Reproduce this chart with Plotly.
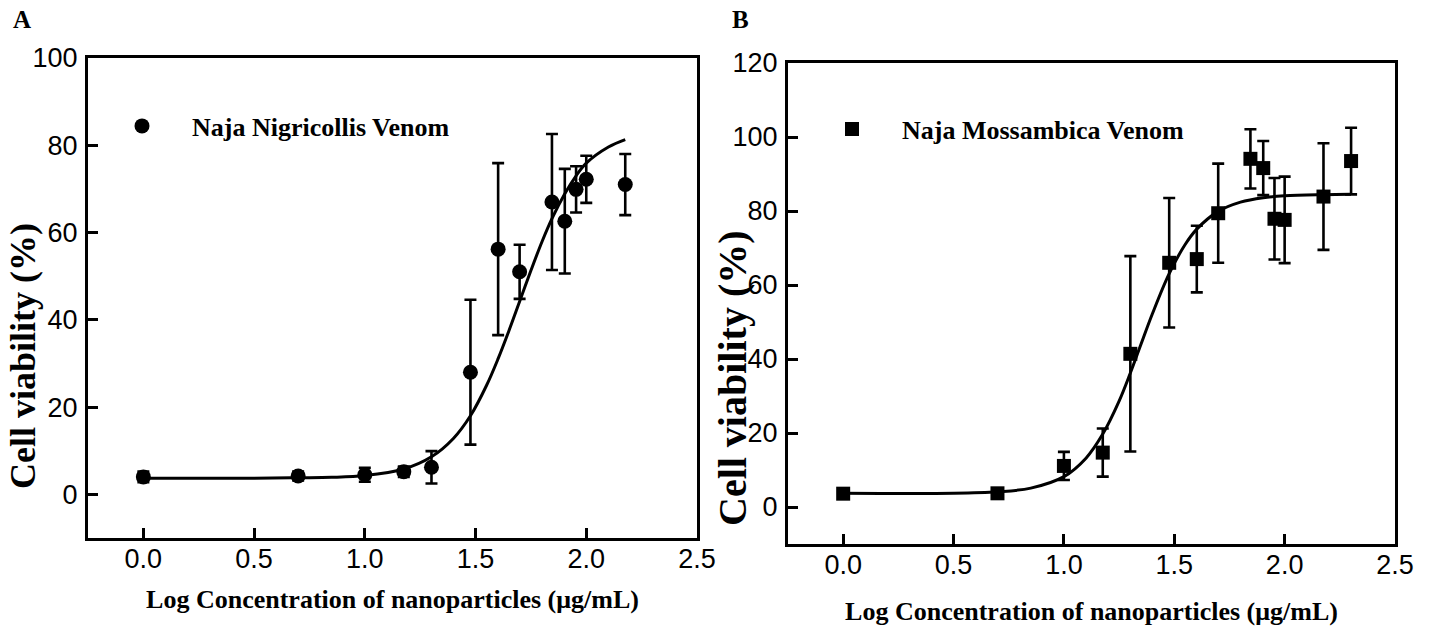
import plotly.graph_objects as go

# ---------------- data ----------------
log_conc_a = [0.0, 0.699, 1.0, 1.176, 1.301, 1.477, 1.602, 1.699, 1.845, 1.903, 1.954, 2.0, 2.176]
viab_a = [4.0, 4.2, 4.5, 5.2, 6.2, 28.0, 56.2, 51.0, 67.0, 62.6, 69.9, 72.2, 71.0]
err_a = [1.2, 1.0, 1.6, 1.2, 3.7, 16.6, 19.7, 6.2, 15.6, 12.0, 5.3, 5.4, 7.0]

log_conc_b = [0.0, 0.699, 1.0, 1.176, 1.301, 1.477, 1.602, 1.699, 1.845, 1.903, 1.954, 2.0, 2.176, 2.301]
viab_b = [3.6, 3.7, 11.1, 14.7, 41.4, 66.0, 67.0, 79.4, 94.1, 91.6, 77.9, 77.6, 83.9, 93.5]
err_b = [1.0, 1.0, 3.8, 6.5, 26.4, 17.5, 9.0, 13.4, 8.0, 7.3, 11.0, 11.7, 14.4, 9.0]

# fitted dose-response curves
fit_x_a = [0.0, 0.5, 0.7, 0.85, 1.0, 1.176, 1.301, 1.4, 1.477, 1.55, 1.602, 1.65, 1.699,
           1.75, 1.8, 1.845, 1.903, 1.954, 2.0, 2.1, 2.176]
fit_y_a = [3.7, 3.7, 3.8, 3.9, 4.3, 5.8, 8.6, 12.8, 18.0, 25.0, 31.1, 37.4, 44.2,
           51.3, 57.9, 63.2, 68.9, 73.0, 75.9, 79.6, 81.3]

fit_x_b = [0.0, 0.5, 0.699, 0.85, 1.0, 1.1, 1.176, 1.25, 1.301, 1.35, 1.4, 1.477, 1.55,
           1.602, 1.699, 1.8, 1.903, 2.0, 2.176, 2.301]
fit_y_b = [3.7, 3.7, 4.1, 5.1, 8.2, 13.2, 19.7, 28.6, 36.2, 44.1, 52.1, 63.1, 71.0,
           75.1, 79.9, 82.4, 83.6, 84.1, 84.4, 84.5]

name_a = "Naja Nigricollis Venom"
name_b = "Naja Mossambica Venom"
x_title = "Log Concentration of nanoparticles (\u03bcg/mL)"
y_title = "Cell viability (%)"
x_ticks = [0.0, 0.5, 1.0, 1.5, 2.0, 2.5]
y_ticks_a = [0, 20, 40, 60, 80, 100]
y_ticks_b = [0, 20, 40, 60, 80, 100, 120]

# ---------------- figure ----------------
W, H = 1432, 626
SERIF = "Liberation Serif"
SANS = "Liberation Sans"

fig = go.Figure()

fig.add_trace(go.Scatter(
    x=fit_x_a, y=fit_y_a, mode="lines", line=dict(color="black", width=3, shape="spline"),
    showlegend=False, xaxis="x", yaxis="y", hoverinfo="skip"))
fig.add_trace(go.Scatter(
    x=log_conc_a, y=viab_a, mode="markers", name=name_a,
    marker=dict(symbol="circle", size=15, color="black"),
    error_y=dict(type="data", array=err_a, visible=True, color="black", thickness=2.6, width=6),
    xaxis="x", yaxis="y", legend="legend"))

fig.add_trace(go.Scatter(
    x=fit_x_b, y=fit_y_b, mode="lines", line=dict(color="black", width=3, shape="spline"),
    showlegend=False, xaxis="x2", yaxis="y2", hoverinfo="skip"))
fig.add_trace(go.Scatter(
    x=log_conc_b, y=viab_b, mode="markers", name=name_b,
    marker=dict(symbol="square", size=14, color="black"),
    error_y=dict(type="data", array=err_b, visible=True, color="black", thickness=2.6, width=6),
    xaxis="x2", yaxis="y2", legend="legend2"))

def px_x(p):
    return p / W

def px_y(p):
    return 1 - p / H

axis_common = dict(
    showline=True, linecolor="black", linewidth=3, mirror=True,
    ticks="inside", ticklen=10, tickwidth=2.5, tickcolor="black",
    showgrid=False, zeroline=False, automargin=False,
    tickfont=dict(family=SANS, size=27, color="black"),
)

xaxis_common = dict(axis_common, range=[-0.25, 2.5], tickvals=x_ticks, tickformat=".1f",
                    ticklabelstandoff=-5)

x_title_font = dict(family=SERIF, size=26, color="black")

legend_common = dict(xanchor="left", yanchor="middle", bgcolor="rgba(0,0,0,0)",
                     borderwidth=0, itemwidth=90,
                     font=dict(family=SERIF, size=26, color="black", weight="bold"))

ann_common = dict(xref="paper", yref="paper", showarrow=False, xanchor="center", yanchor="middle")

fig.update_layout(
    width=W, height=H, autosize=False,
    margin=dict(l=0, r=0, t=0, b=0, pad=0),
    paper_bgcolor="white", plot_bgcolor="white",
    xaxis=dict(xaxis_common, domain=[px_x(88), px_x(697)], anchor="y",
               title=dict(text="<b>" + x_title + "</b>", font=x_title_font, standoff=17)),
    yaxis=dict(axis_common, domain=[px_y(538), px_y(58)], range=[-10, 100], tickvals=y_ticks_a,
               anchor="x", ticklabelstandoff=2),
    xaxis2=dict(xaxis_common, domain=[px_x(788), px_x(1395)], anchor="y2",
                title=dict(text="<b>" + x_title + "</b>", font=x_title_font, standoff=24)),
    yaxis2=dict(axis_common, domain=[px_y(544), px_y(63)], range=[-10, 120], tickvals=y_ticks_b,
                anchor="x2", ticklabelstandoff=2),
    legend=dict(legend_common, x=px_x(92), y=px_y(126)),
    legend2=dict(legend_common, x=px_x(802), y=px_y(129)),
    annotations=[
        dict(ann_common, text="<b>A</b>", x=px_x(22), y=px_y(20),
             font=dict(family=SERIF, size=25, color="black")),
        dict(ann_common, text="<b>B</b>", x=px_x(740), y=px_y(19),
             font=dict(family=SERIF, size=25, color="black")),
        dict(ann_common, text="<b>" + y_title + "</b>", x=px_x(23), y=px_y(356), textangle=-90,
             font=dict(family=SERIF, size=36, color="black")),
        dict(ann_common, text="<b>" + y_title + "</b>", x=px_x(732), y=px_y(378), textangle=-90,
             font=dict(family=SERIF, size=40, color="black")),
    ],
)

fig.write_html("out.html", config={"displayModeBar": False},
               post_script="document.body.style.margin='0px';")
